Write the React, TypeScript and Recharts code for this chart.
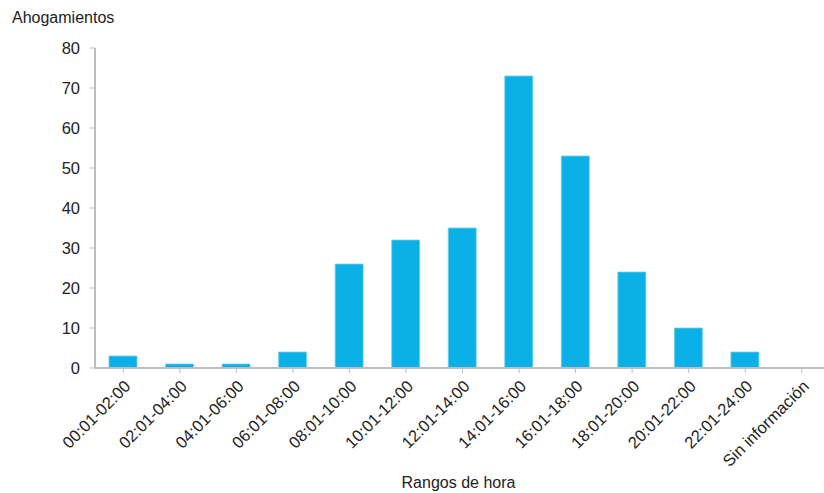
import React from 'react';
import { BarChart, Bar, XAxis, YAxis } from 'recharts';

const categories = ['00:01-02:00', '02:01-04:00', '04:01-06:00', '06:01-08:00', '08:01-10:00', '10:01-12:00', '12:01-14:00', '14:01-16:00', '16:01-18:00', '18:01-20:00', '20:01-22:00', '22:01-24:00', 'Sin información'];
const values = [3, 1, 1, 4, 26, 32, 35, 73, 53, 24, 10, 4, 0];
const yTicks = [0, 10, 20, 30, 40, 50, 60, 70, 80];

const data = categories.map((c, i) => ({ name: c, value: values[i] }));

const FONT = '"Liberation Sans", Arial, sans-serif';
const AXIS = '#bdbdbd';
const TEXT = '#222222';

export default function App() {
  return (
    <div style={{ position: 'absolute', left: 0, top: 0, width: 824, height: 493, overflow: 'hidden', background: '#fff', fontFamily: FONT }}>
      <span style={{ position: 'absolute', left: 12, top: 9, fontSize: 16, color: TEXT, fontFamily: FONT }}>Ahogamientos</span>
      <BarChart width={840} height={493} data={data} margin={{ top: 48, right: 10, left: 0, bottom: 0 }}>
        <XAxis
          dataKey="name"
          interval={0}
          height={125}
          axisLine={{ stroke: AXIS, strokeWidth: 2 }}
          tickLine={{ stroke: AXIS }}
          tickSize={5}
          tickMargin={6}
          tick={{ fill: TEXT, fontSize: 16.5, fontFamily: FONT, angle: -45, textAnchor: 'end' }}
          label={{ value: 'Rangos de hora', position: 'insideBottom', offset: 5, dx: -4, fill: TEXT, fontSize: 16, fontFamily: FONT }}
        />
        <YAxis
          domain={[0, 80]}
          ticks={yTicks}
          width={95}
          axisLine={{ stroke: AXIS, strokeWidth: 2 }}
          tickLine={{ stroke: AXIS }}
          tickSize={5}
          tickMargin={10}
          tick={{ fill: TEXT, fontSize: 16.5, fontFamily: FONT }}
        />
        <Bar dataKey="value" fill="#0bb0e6" stroke="#6fcff0" strokeWidth={0.8} barSize={28} isAnimationActive={false} />
      </BarChart>
    </div>
  );
}
